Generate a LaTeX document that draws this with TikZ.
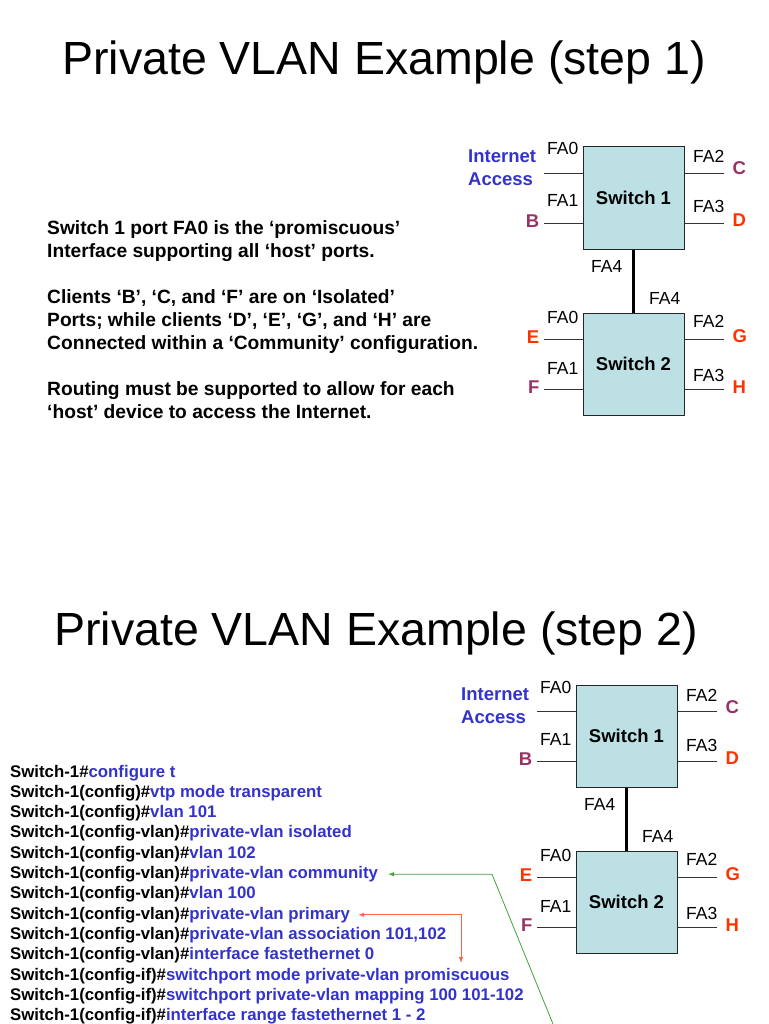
\documentclass[tikz,border=0pt]{standalone}
\usepackage{fontspec}
\setmainfont{Liberation Sans}
\usetikzlibrary{arrows.meta}

\definecolor{swfill}{RGB}{188,224,228}
\definecolor{hostpurple}{RGB}{153,51,102}
\definecolor{hostred}{RGB}{255,51,0}
\definecolor{cmdblue}{RGB}{51,51,204}
\definecolor{linkgreen}{RGB}{70,160,60}
\definecolor{linkorange}{RGB}{255,100,70}

\tikzset{
  swbox/.style={draw=black!85, line width=1pt, fill=swfill, minimum width=101pt,
    minimum height=102pt, inner sep=0pt, font=\bfseries\fontsize{18.5}{22}\selectfont},
  trunk/.style={line width=3pt},
  stub/.style={draw=black!80, line width=0.8pt},
  fa/.style={anchor=base west, inner sep=0pt, font=\fontsize{17.5}{21}\selectfont},
  host/.style={inner sep=0pt, font=\bfseries\fontsize{18.5}{22}\selectfont},
  lhost/.style={host, anchor=base east},
  rhost/.style={host, anchor=base west},
  inet/.style={anchor=north west, align=left, inner sep=0pt, text=cmdblue,
    font=\bfseries\fontsize{18.5}{23}\selectfont},
  title/.style={anchor=base, inner sep=0pt, font=\fontsize{46.5}{56}\selectfont},
  notes/.style={anchor=north west, align=left, inner sep=0pt,
    font=\bfseries\fontsize{19.2}{23}\selectfont},
  cfgline/.style={anchor=base west, inner sep=0pt, font=\bfseries\fontsize{16.8}{20}\selectfont},
  pointer/.style={line width=0.8pt, -{Latex[length=6pt,width=4.5pt]}}
}

% two switches joined by the trunk, #1 = name prefix
\newcommand{\swpair}[1]{%
  % switches
  \node[swbox] (#1sw1) at (633.5,198) {Switch 1};
  \node[swbox] (#1sw2) at (633.5,364) {Switch 2};
  \draw[trunk] (#1sw1) -- (#1sw2);
  % port stubs
  \foreach \sw in {1,2} {
    \draw[stub] ([yshift=25pt]#1sw\sw.west) -- ++(-39,0) coordinate (#1sw\sw-a);
    \draw[stub] ([yshift=-25pt]#1sw\sw.west) -- ++(-39,0) coordinate (#1sw\sw-b);
    \draw[stub] ([yshift=25pt]#1sw\sw.east) -- ++(39,0) coordinate (#1sw\sw-c);
    \draw[stub] ([yshift=-25pt]#1sw\sw.east) -- ++(39,0) coordinate (#1sw\sw-d);
  }
  %% port names
  \node[fa] (#1fa10) at (547,155) {FA0};
  \node[fa] (#1fa11) at (547,207) {FA1};
  \node[fa] (#1fa12) at (693,163) {FA2};
  \node[fa] (#1fa13) at (693,213) {FA3};
  \node[fa] (#1fa14) at (591,272) {FA4};
  \node[fa] (#1fa24) at (649,304) {FA4};
  \node[fa] (#1fa20) at (547,323) {FA0};
  \node[fa] (#1fa21) at (547,374) {FA1};
  \node[fa] (#1fa22) at (693,327) {FA2};
  \node[fa] (#1fa23) at (693,381) {FA3};
  %% hosts
  \node[inet] (#1inet) at (468,149.8) {Internet\\Access};
  \node[lhost, text=hostpurple] (#1B) at ([xshift=-4pt,yshift=-4pt]#1sw1-b) {B};
  \node[rhost, text=hostpurple] (#1C) at ([xshift=9pt,yshift=-2pt]#1sw1-c) {C};
  \node[rhost, text=hostred] (#1D) at ([xshift=9pt,yshift=-3pt]#1sw1-d) {D};
  \node[lhost, text=hostred] (#1E) at ([xshift=-4pt,yshift=-4pt]#1sw2-a) {E};
  \node[lhost, text=hostpurple] (#1F) at ([xshift=-4pt,yshift=-4pt]#1sw2-b) {F};
  \node[rhost, text=hostred] (#1G) at ([xshift=9pt,yshift=-3pt]#1sw2-c) {G};
  \node[rhost, text=hostred] (#1H) at ([xshift=9pt,yshift=-4pt]#1sw2-d) {H};
}

\begin{document}
\begin{tikzpicture}[x=1pt, y=-1pt]
  \useasboundingbox (0,0) rectangle (768,1024);

  % step 1
  \node[title] (title1) at (384,75) {Private VLAN Example (step 1)};
  \node[notes] (notes) at (47,220.3) {Switch 1 port FA0 is the ‘promiscuous’\\
    Interface supporting all ‘host’ ports.\\[23pt]
    Clients ‘B’, ‘C, and ‘F’ are on ‘Isolated’\\
    Ports; while clients ‘D’, ‘E’, ‘G’, and ‘H’ are\\
    Connected within a ‘Community’ configuration.\\[23pt]
    Routing must be supported to allow for each\\
    ‘host’ device to access the Internet.};
  \swpair{a}

  % step 2
  \node[title] (title2) at (376,645) {Private VLAN Example (step 2)};
  \begin{scope}[shift={(-7,538)}]
    \swpair{b}
  \end{scope}

  %% switch configuration
  \foreach \pre/\cmd [count=\i] in {
    Switch-1/configure t,
    Switch-1(config)/vtp mode transparent,
    Switch-1(config)/vlan 101,
    Switch-1(config-vlan)/private-vlan isolated,
    Switch-1(config-vlan)/vlan 102,
    Switch-1(config-vlan)/private-vlan community,
    Switch-1(config-vlan)/vlan 100,
    Switch-1(config-vlan)/private-vlan primary,
    Switch-1(config-vlan)/{private-vlan association 101,102},
    Switch-1(config-vlan)/interface fastethernet 0,
    Switch-1(config-if)/switchport mode private-vlan promiscuous,
    Switch-1(config-if)/switchport private-vlan mapping 100 101-102,
    Switch-1(config-if)/interface range fastethernet 1 - 2}
    \node[cfgline] (cfg\i) at (10,{777+(\i-1)*20.3}) {\pre\#\textcolor{cmdblue}{\cmd}};

  %% pointers
  \coordinate (comm) at ([xshift=10pt]cfg6.east);
  \coordinate (gknee) at (492,877);
  \coordinate (gfoot) at (553,1024);
  \draw[pointer, linkgreen] (gfoot) -- (gknee |- comm) -- (comm);
  \coordinate (prim) at ([xshift=8pt]cfg8.east);
  \coordinate (pmsc) at (461,963);
  \draw[pointer, linkorange, {Latex[length=6pt,width=4.5pt]}-{Latex[length=6pt,width=4.5pt]}] (prim) -| (pmsc);
\end{tikzpicture}
\end{document}
